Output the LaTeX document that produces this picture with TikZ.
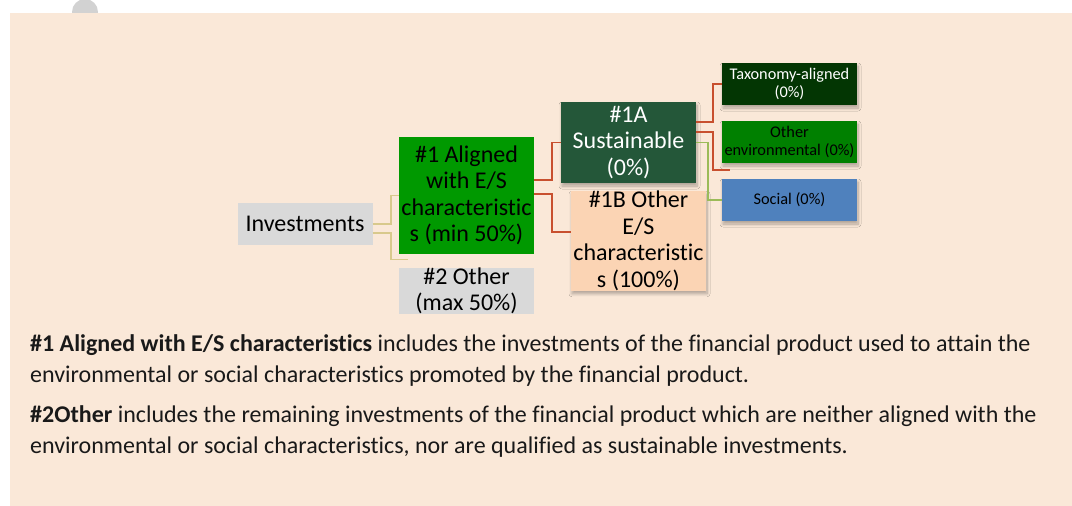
\documentclass[tikz,border=0pt]{standalone}
\usepackage{fontspec}
\setmainfont{Carlito}[Ligatures=NoCommon]
\usepackage{tikz}
\usetikzlibrary{calc,shadows,shadows.blur}
\definecolor{bgbeige}{HTML}{FAE8D8}
\definecolor{boxgray}{HTML}{D9D9D9}
\definecolor{alignedgreen}{HTML}{009900}
\definecolor{sustgreen}{HTML}{245739}
\definecolor{peach}{HTML}{FBD4B4}
\definecolor{taxogreen}{HTML}{033603}
\definecolor{envgreen}{HTML}{008000}
\definecolor{socialblue}{HTML}{4F81BD}
\definecolor{linered}{HTML}{C8502F}
\definecolor{linetan}{HTML}{D8C98C}
\definecolor{linegreen}{HTML}{9BBB59}

\begin{document}
\begin{tikzpicture}[x=1pt,y=-1pt,
  bigbox/.style={inner sep=0pt,minimum width=135pt,align=center,font=\fontsize{24}{26.5}\selectfont},
  smallbox/.style={inner sep=0pt,minimum width=135pt,minimum height=42pt,align=center,font=\fontsize{16.3}{18}\selectfont},
  shade/.style={blur shadow={shadow xshift=1pt,shadow yshift=-3pt,shadow blur steps=8,shadow blur radius=3pt,shadow opacity=30}},
  tanline/.style={draw=linetan,line width=1.7pt},
  redline/.style={draw=linered,line width=1.5pt},
  greenline/.style={draw=linegreen,line width=1.5pt},
  expltext/.style={anchor=base west,inner sep=0pt,align=left,text=black!90,font=\fontsize{24}{31}\selectfont}]
\useasboundingbox (0,0) rectangle (1072,506);
\fill[white] (0,0) rectangle (1072,506);
\fill[gray!35] (85,12) circle (13);
\fill[bgbeige] (10,13) rectangle (1072,506);

% boxes
\node[bigbox,fill=boxgray,minimum height=42pt] (inv) at (305,224) {Investments};
\node[bigbox,fill=alignedgreen,minimum height=117pt] (aligned) at (466.5,195.5) {\#1 Aligned\\with E/S\\characteristic\\s (min 50\%)};
\node[bigbox,fill=boxgray,minimum height=42pt] (other) at (466.5,291) {\#2 Other\\(max 50\%)};
\node[bigbox,shade,fill=sustgreen,text=white,minimum height=81pt] (sust) at (628.5,142.5) {\#1A\\Sustainable\\(0\%)};
\node[bigbox,shade,fill=peach,minimum height=88pt] (otheres) at (638.5,241) {\#1B Other\\E/S\\characteristic\\s (100\%)};
\node[smallbox,shade,fill=taxogreen,text=white] (taxo) at (789.5,84) {Taxonomy-aligned\\(0\%)};
\node[smallbox,shade,fill=envgreen] (otherenv) at (789.5,142) {Other\\environmental (0\%)};
\node[smallbox,shade,fill=socialblue] (social) at (789.5,200) {Social (0\%)};

% connectors
\draw[tanline] (inv.east) -- ++(18,0) |- (aligned.west);
\draw[tanline] ([yshift=-9pt]inv.east) -- ++(18,0) |- ([xshift=9pt,yshift=8pt]other.north west);
\draw[redline] ([yshift=15.5pt]aligned.east) -- ++(18,0) |- (sust.west);
\draw[redline] ([yshift=1.5pt]aligned.east) -- ++(18,0) |- ([yshift=9pt]otheres.west);
\draw[redline] ([yshift=20.5pt]sust.east) -- ++(17,0) |- (taxo.west);
\draw[redline] ([yshift=10.5pt]sust.east) -- ++(17,0) |- ([xshift=8pt,yshift=-28pt]otherenv.west);
\draw[greenline] (sust.east) -- ++(12,0) |- (social.west);

% explanation
\node[expltext] (expl1) at (30,382)
  {\textbf{\#1 Aligned with E/S characteristics} includes the investments of the financial product used to attain the\\
   environmental or social characteristics promoted by the financial product.};
\node[expltext] (expl2) at (30,453)
  {\textbf{\#2Other} includes the remaining investments of the financial product which are neither aligned with the\\
   environmental or social characteristics, nor are qualified as sustainable investments.};
\end{tikzpicture}
\end{document}
